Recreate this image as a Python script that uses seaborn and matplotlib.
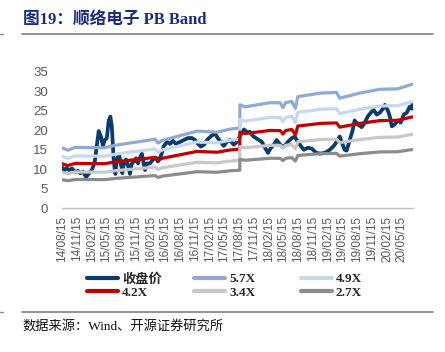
import matplotlib
matplotlib.use('Agg')
import matplotlib.pyplot as plt
import seaborn as sns
import pandas as pd
from matplotlib.lines import Line2D
from matplotlib.font_manager import FontProperties

title = '图19：顺络电子 PB Band'
source = '数据来源：Wind、开源证券研究所'

price_name = '收盘价'
price_dates = [
    '2014-08-15', '2014-08-27', '2014-09-10', '2014-09-28', '2014-10-16', '2014-11-03',
    '2014-11-22', '2014-12-05', '2014-12-23', '2015-01-11', '2015-01-30', '2015-02-18',
    '2015-03-06', '2015-03-18', '2015-03-30', '2015-04-12', '2015-04-25', '2015-05-07',
    '2015-05-19', '2015-05-31', '2015-06-10', '2015-06-19', '2015-07-01', '2015-07-11',
    '2015-07-20', '2015-08-02', '2015-08-14', '2015-08-23', '2015-09-02', '2015-09-15',
    '2015-09-27', '2015-10-09', '2015-10-21', '2015-11-03', '2015-11-16', '2015-11-28',
    '2015-12-10', '2015-12-22', '2016-01-04', '2016-01-10', '2016-01-22', '2016-02-10',
    '2016-02-29', '2016-03-17', '2016-03-30', '2016-04-18', '2016-05-06', '2016-05-25',
    '2016-06-13', '2016-07-01', '2016-07-19', '2016-08-13', '2016-09-07', '2016-10-02',
    '2016-10-27', '2016-11-15', '2016-12-03', '2016-12-21', '2017-01-09', '2017-01-27',
    '2017-02-22', '2017-03-17', '2017-04-04', '2017-04-23', '2017-05-11', '2017-05-30',
    '2017-06-18', '2017-07-12', '2017-07-31', '2017-08-19', '2017-09-13', '2017-10-01',
    '2017-10-20', '2017-11-08', '2017-11-26', '2017-12-14', '2018-01-02', '2018-01-21',
    '2018-02-08', '2018-02-27', '2018-03-16', '2018-04-03', '2018-04-16', '2018-05-05',
    '2018-05-23', '2018-06-11', '2018-07-06', '2018-07-24', '2018-08-12', '2018-08-30',
    '2018-09-18', '2018-10-13', '2018-11-07', '2018-12-01', '2018-12-26', '2019-01-26',
    '2019-02-26', '2019-03-27', '2019-04-15', '2019-04-28', '2019-05-10', '2019-05-28',
    '2019-06-10', '2019-06-29', '2019-07-17', '2019-07-29', '2019-08-17', '2019-09-11',
    '2019-09-30', '2019-10-18', '2019-11-06', '2019-11-24', '2019-12-13', '2020-01-01',
    '2020-01-20', '2020-02-01', '2020-02-20', '2020-03-03', '2020-03-15', '2020-04-02',
    '2020-04-21', '2020-05-09', '2020-05-28', '2020-06-16', '2020-07-03', '2020-07-16',
    '2020-07-22',
]
price_values = [
    10.5, 9.5, 10.3, 9.8, 10.2, 9.3,
    9.6, 9.0, 9.4, 8.0, 9.0, 10.0,
    12.0, 16.0, 19.8, 18.5, 16.0, 17.5,
    18.0, 22.5, 23.5, 21.0, 12.0, 8.8,
    12.5, 13.8, 11.5, 9.0, 11.5, 12.5,
    11.0, 8.8, 11.5, 12.0, 12.8, 11.5,
    13.0, 14.0, 11.0, 9.8, 11.5, 11.5,
    12.5, 13.0, 12.0, 13.5, 16.0, 17.0,
    16.5, 17.3, 16.5, 17.0, 17.5, 18.0,
    18.0, 17.5, 16.5, 15.8, 16.3, 17.5,
    18.5, 19.2, 18.0, 17.0, 16.0, 17.0,
    17.5, 16.3, 17.0, 18.5, 20.2, 19.5,
    19.6, 18.5, 18.0, 17.5, 17.0, 15.5,
    14.2, 15.5, 16.3, 17.5, 16.8, 15.8,
    16.0, 17.0, 18.0, 18.4, 17.0, 16.0,
    15.0, 15.5, 15.3, 14.3, 14.0, 14.2,
    15.0, 16.2, 17.5, 18.4, 17.0, 15.0,
    14.8, 17.5, 20.0, 22.5, 21.5, 20.8,
    22.0, 23.5, 24.5, 25.2, 24.0, 24.5,
    25.5, 26.5, 25.0, 23.5, 21.0, 21.5,
    22.5, 22.0, 24.0, 24.5, 26.0, 25.5,
    27.0,
]

band_dates = [
    '2014-08-15', '2014-09-20', '2014-11-05', '2015-05-05', '2015-07-15', '2016-02-10',
    '2016-03-10', '2016-04-01', '2016-04-25', '2016-11-27', '2017-03-30', '2017-06-20',
    '2017-08-18', '2017-08-19', '2017-09-20', '2018-02-22', '2018-04-25', '2018-05-12',
    '2018-05-28', '2018-07-05', '2018-07-28', '2018-08-12', '2019-01-01', '2019-04-08',
    '2019-04-28', '2019-08-30', '2020-01-01', '2020-04-20', '2020-07-22',
]
bvps = [
    2.72, 2.61, 2.74, 2.72, 2.84, 3.07,
    3.11, 2.93, 3.05, 3.47, 3.42, 3.56,
    3.61, 4.65, 4.56, 4.75, 4.74, 4.53,
    4.74, 4.81, 4.49, 5.02, 5.18, 5.21,
    4.95, 5.18, 5.35, 5.37, 5.58,
]
multiples = [5.7, 4.9, 4.2, 3.4, 2.7]
band_names = ['5.7X', '4.9X', '4.2X', '3.4X', '2.7X']

tick_labels = [
    '14/08/15', '14/11/15', '15/02/15', '15/05/15', '15/08/15', '15/11/15',
    '16/02/15', '16/05/15', '16/08/15', '16/11/15', '17/02/15', '17/05/15',
    '17/08/15', '17/11/15', '18/02/15', '18/05/15', '18/08/15', '18/11/15',
    '19/02/15', '19/05/15', '19/08/15', '19/11/15', '20/02/15', '20/05/15',
]
y_ticks = [0, 5, 10, 15, 20, 25, 30, 35]

palette = {
    '收盘价': '#0B3A6C',
    '5.7X': '#8FAAD4',
    '4.9X': '#C5D8F0',
    '4.2X': '#C00000',
    '3.4X': '#C8C8C8',
    '2.7X': '#8C8C8C',
}

rows = [(d, v, price_name) for d, v in zip(price_dates, price_values)]
for m, n in zip(multiples, band_names):
    rows += [(d, b * m, n) for d, b in zip(band_dates, bvps)]
df = pd.DataFrame(rows, columns=['date', 'value', 'series'])
df['date'] = pd.to_datetime(df['date'])

sns.set_style('white')
plt.rcParams['font.family'] = ['Liberation Sans', 'Noto Sans CJK SC']

W, H = 445, 352
fig = plt.figure(figsize=(W / 100, H / 100), dpi=100)
ax = fig.add_axes([62 / W, 1 - 208.3 / H, (413 - 62) / W, (208.3 - 71.7) / H])

sns.lineplot(data=df, x='date', y='value', hue='series',
             hue_order=[price_name] + band_names, palette=palette,
             estimator=None, sort=False, linewidth=2.3, legend=False, ax=ax)
ax.lines[0].set_linewidth(2.7)

ax.set_xlim(pd.Timestamp('2014-08-15'), pd.Timestamp('2020-07-24'))
ax.set_ylim(0, 35)
ax.set_yticks(y_ticks)
ax.set_yticklabels([str(t) for t in y_ticks])
tick_dates = pd.to_datetime(tick_labels, format='%y/%m/%d')
ax.set_xticks(tick_dates)
ax.set_xticklabels(tick_labels, rotation=90)
ax.set_xlabel('')
ax.set_ylabel('')
for s in ['left', 'top', 'right']:
    ax.spines[s].set_visible(False)
ax.spines['bottom'].set_color('#BFBFBF')
ax.spines['bottom'].set_linewidth(1.0)
ax.tick_params(axis='x', length=4, width=0.8, color='#BFBFBF', pad=1.5,
               labelsize=8.5, labelcolor='#595959')
ax.tick_params(axis='y', length=0, pad=10, labelsize=9.5, labelcolor='#595959')
ax.grid(False)

# legend: three columns of two rows
leg_font = FontProperties(family=['Liberation Serif', 'Noto Sans CJK SC'],
                          weight='bold', size=9.5)
columns = [[price_name, '4.2X'], ['5.7X', '3.4X'], ['4.9X', '2.7X']]
col_x = [87, 194, 301]
for names, x0 in zip(columns, col_x):
    handles = [Line2D([], [], color=palette[n], lw=3) for n in names]
    fig.legend(handles, names, loc='upper left',
               bbox_to_anchor=(x0 / W, 1 - 273 / H), frameon=False,
               borderpad=0, borderaxespad=0, handlelength=2.35,
               handletextpad=0.3, labelspacing=0.1, prop=leg_font)

# title, rules and source
fig.text(23 / W, 1 - 20 / H, title, fontsize=12, fontweight='bold',
         color='#1B2C80', family=['Liberation Serif', 'Noto Sans CJK SC'],
         va='center', ha='left')
for yy in [33.5, 311.5]:
    fig.add_artist(Line2D([22 / W, 433 / W], [1 - yy / H] * 2,
                          color='#8A8A8A', lw=1.3))
    fig.add_artist(Line2D([0, 3 / W], [1 - yy / H] * 2, color='#8A8A8A', lw=1.0))
fig.text(22 / W, 1 - 326 / H, source, fontsize=9.5, color='#111111',
         family=['Liberation Serif', 'Noto Sans CJK SC'], va='center', ha='left')

fig.savefig('out.png', dpi=100)
